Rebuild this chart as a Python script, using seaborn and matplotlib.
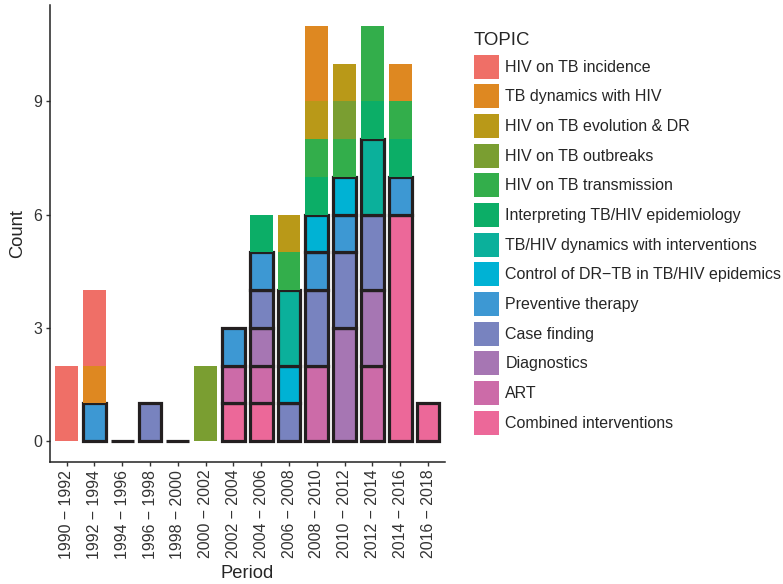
import matplotlib
matplotlib.use("Agg")
import matplotlib.pyplot as plt
import seaborn as sns
import numpy as np
from matplotlib.patches import Patch

sns.set_style("white")
plt.rcParams['font.family'] = ['Liberation Sans', 'DejaVu Sans']

periods = ["1990 \u2212 1992", "1992 \u2212 1994", "1994 \u2212 1996", "1996 \u2212 1998",
           "1998 \u2212 2000", "2000 \u2212 2002", "2002 \u2212 2004", "2004 \u2212 2006",
           "2006 \u2212 2008", "2008 \u2212 2010", "2010 \u2212 2012", "2012 \u2212 2014",
           "2014 \u2212 2016", "2016 \u2212 2018"]

topics = ["HIV on TB incidence", "TB dynamics with HIV", "HIV on TB evolution & DR",
          "HIV on TB outbreaks", "HIV on TB transmission", "Interpreting TB/HIV epidemiology",
          "TB/HIV dynamics with interventions", "Control of DR\u2212TB in TB/HIV epidemics",
          "Preventive therapy", "Case finding", "Diagnostics", "ART", "Combined interventions"]

colors = ["#EF6F67", "#DE8821", "#B99918", "#7A9E31", "#33AE4B", "#0CAE67", "#0BB09B",
          "#00B2D4", "#3D98D3", "#7883BF", "#A676B3", "#CC6BA8", "#EC6899"]

outlined = [False, False, False, False, False, False, True, True, True, True, True, True, True]

hiv_on_tb_incidence = [2, 2, 0, 0, 0, 0, 0, 0, 0, 0, 0, 0, 0, 0]
tb_dynamics_with_hiv = [0, 1, 0, 0, 0, 0, 0, 0, 0, 2, 0, 0, 1, 0]
hiv_on_tb_evolution = [0, 0, 0, 0, 0, 0, 0, 0, 1, 1, 1, 0, 0, 0]
hiv_on_tb_outbreaks = [0, 0, 0, 0, 0, 2, 0, 0, 0, 0, 1, 0, 0, 0]
hiv_on_tb_transmission = [0, 0, 0, 0, 0, 0, 0, 0, 1, 1, 1, 2, 1, 0]
interpreting_epi = [0, 0, 0, 0, 0, 0, 0, 1, 0, 1, 0, 1, 1, 0]
tbhiv_dyn_interventions = [0, 0, 0, 0, 0, 0, 0, 0, 2, 0, 0, 2, 0, 0]
control_drtb = [0, 0, 0, 0, 0, 0, 0, 0, 1, 1, 1, 0, 0, 0]
preventive_therapy = [0, 1, 0, 0, 0, 0, 1, 1, 0, 1, 1, 0, 1, 0]
case_finding = [0, 0, 0, 1, 0, 0, 0, 1, 1, 2, 2, 2, 0, 0]
diagnostics = [0, 0, 0, 0, 0, 0, 0, 1, 0, 0, 3, 2, 0, 0]
art = [0, 0, 0, 0, 0, 0, 1, 1, 0, 2, 0, 2, 0, 0]
combined_interventions = [0, 0, 0, 0, 0, 0, 1, 1, 0, 0, 0, 0, 6, 1]
# periods with zero studies (drawn as outlined zero-height bars)
zero_periods = ["1994 \u2212 1996", "1998 \u2212 2000"]

series = [hiv_on_tb_incidence, tb_dynamics_with_hiv, hiv_on_tb_evolution, hiv_on_tb_outbreaks,
          hiv_on_tb_transmission, interpreting_epi, tbhiv_dyn_interventions, control_drtb,
          preventive_therapy, case_finding, diagnostics, art, combined_interventions]

EDGE = "#231F20"
LW = 2.3
W = 0.82

fig = plt.figure(figsize=(7.83, 5.84), dpi=100)
ax = fig.add_axes([50 / 783, (584 - 462) / 584, (444.7 - 50) / 783, (462 - 5) / 584])

bottoms = np.zeros(len(periods))
for i in reversed(range(len(topics))):
    vals = np.array(series[i], dtype=float)
    mask = vals > 0
    if mask.any():
        xs = [p for p, m in zip(periods, mask) if m]
        sns.barplot(x=xs, y=vals[mask], bottom=bottoms[mask], order=periods,
                    color=colors[i], saturation=1, width=W, errorbar=None,
                    edgecolor=EDGE if outlined[i] else "none",
                    linewidth=LW if outlined[i] else 0, ax=ax)
    bottoms += vals

sns.barplot(x=zero_periods, y=[0.0] * len(zero_periods), order=periods,
            color=colors[-1], saturation=1, width=W, errorbar=None,
            edgecolor=EDGE, linewidth=LW, ax=ax)

ax.set_xlim(-0.6, 13.6)
ax.set_ylim(-0.55, 11.55)
ax.set_yticks([0, 3, 6, 9])
ax.set_xticks(range(len(periods)))
ax.set_xticklabels(periods, rotation=90, fontsize=11.4, color="#333333")
ax.tick_params(axis="y", labelsize=11.5, labelcolor="#333333")
ax.tick_params(axis="both", length=3, width=1.0, color="#333333", pad=2.5, left=True, bottom=True)
for s in ["top", "right"]:
    ax.spines[s].set_visible(False)
for s in ["left", "bottom"]:
    ax.spines[s].set_linewidth(1.1)
    ax.spines[s].set_color("#222222")
ax.set_xlabel("Period", fontsize=13.2, labelpad=5)
ax.set_ylabel("Count", fontsize=13.2, labelpad=5)
ax.grid(False)

handles = [Patch(facecolor=c, edgecolor="none") for c in colors]
leg = fig.legend(handles, topics, loc="upper left", bbox_to_anchor=(474 / 783, 1 - 32 / 584),
                 frameon=False, title="TOPIC", fontsize=11.5, title_fontsize=13.4,
                 handlelength=1.56, handleheight=1.935, labelspacing=0.355,
                 handletextpad=0.4, borderpad=0, borderaxespad=0, alignment="left")

fig.savefig("out.png", dpi=100)
